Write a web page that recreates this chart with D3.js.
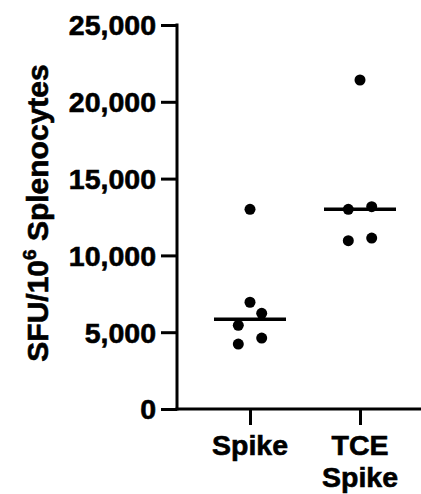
<!DOCTYPE html>
<html>
<head>
<meta charset="utf-8">
<script src="https://cdn.jsdelivr.net/npm/d3@7"></script>
<style>
  html, body { margin: 0; padding: 0; background: #fff; }
  svg { display: block; }
  text { font-family: "Liberation Sans", Arial, Helvetica, sans-serif; font-weight: bold; fill: #000; stroke: #000; stroke-width: 0.6px; }
</style>
</head>
<body>
<script>
// ---- data ----
const categories = ["Spike", "TCE Spike"];
const spikeValues = [13000, 6950, 6230, 5450, 4620, 4230];
const spikeJitter = [0, 0, 1, -1, 1, -1];
const tceSpikeValues = [21420, 13000, 13170, 10960, 11130];
const tceSpikeJitter = [0, -1, 1, -1, 1];
const yTicks = [0, 5000, 10000, 15000, 20000, 25000];
const yTitle = "SFU/10";
const yTitleSup = "6";
const yTitleRest = " Splenocytes";

const groups = [
  { name: categories[0], values: spikeValues, jitter: spikeJitter },
  { name: categories[1], values: tceSpikeValues, jitter: tceSpikeJitter }
];

// ---- layout ----
const W = 421, H = 494;
const axisX = 177, axisY = 409, topY = 25;
const svg = d3.select("body").append("svg").attr("width", W).attr("height", H);

const y = d3.scaleLinear().domain([0, 25000]).range([axisY, topY]);
const x = d3.scalePoint().domain(categories).range([axisX, 433]).padding(0.6636);

const fmt = d3.format(",");

// y axis
const yAxis = d3.axisLeft(y).tickValues(yTicks).tickFormat(fmt).tickSize(16).tickPadding(5).tickSizeOuter(0);
const gy = svg.append("g").attr("transform", `translate(${axisX},0)`).call(yAxis);
gy.select(".domain").attr("stroke", "#000").attr("stroke-width", 3)
  .attr("d", `M0,${topY - 1.5}V${axisY + 1.5}`);
gy.selectAll(".tick line").attr("stroke", "#000").attr("stroke-width", 3);
gy.selectAll(".tick text").attr("font-size", 28.5).attr("font-family", null).attr("dy", "0.35em");

// x axis
const xAxis = d3.axisBottom(x).tickSize(16).tickSizeOuter(0).tickFormat(() => "");
const gx = svg.append("g").attr("transform", `translate(0,${axisY})`).call(xAxis);
gx.select(".domain").attr("stroke", "#000").attr("stroke-width", 3)
  .attr("d", `M${axisX - 1.5},0H${W + 20}`);
gx.selectAll(".tick line").attr("stroke", "#000").attr("stroke-width", 3);

// x labels (multi-line)
const xl = svg.append("g");
categories.forEach(c => {
  const words = c.split(" ");
  const t = xl.append("text").attr("text-anchor", "middle").attr("font-size", 28.5)
    .attr("x", x(c)).attr("y", 455);
  words.forEach((w, i) => {
    t.append("tspan").attr("x", x(c)).attr("dy", i === 0 ? 0 : 32).text(w);
  });
});

// y title
const yt = svg.append("text")
  .attr("transform", `translate(48,213) rotate(-90)`)
  .attr("text-anchor", "middle").attr("font-size", 30);
yt.append("tspan").text(yTitle);
yt.append("tspan").attr("font-size", 19).attr("dy", -12).text(yTitleSup);
yt.append("tspan").attr("dy", 12).text(yTitleRest);

// points
const jitterStep = 11.7;
groups.forEach(g => {
  svg.append("g").selectAll("circle").data(g.values).join("circle")
    .attr("cx", (d, i) => x(g.name) + g.jitter[i] * jitterStep)
    .attr("cy", d => y(d))
    .attr("r", 5.5)
    .attr("fill", "#000");
  const med = d3.median(g.values);
  svg.append("line")
    .attr("x1", x(g.name) - 36).attr("x2", x(g.name) + 36)
    .attr("y1", y(med)).attr("y2", y(med))
    .attr("stroke", "#000").attr("stroke-width", 3.5);
});
</script>
</body>
</html>
